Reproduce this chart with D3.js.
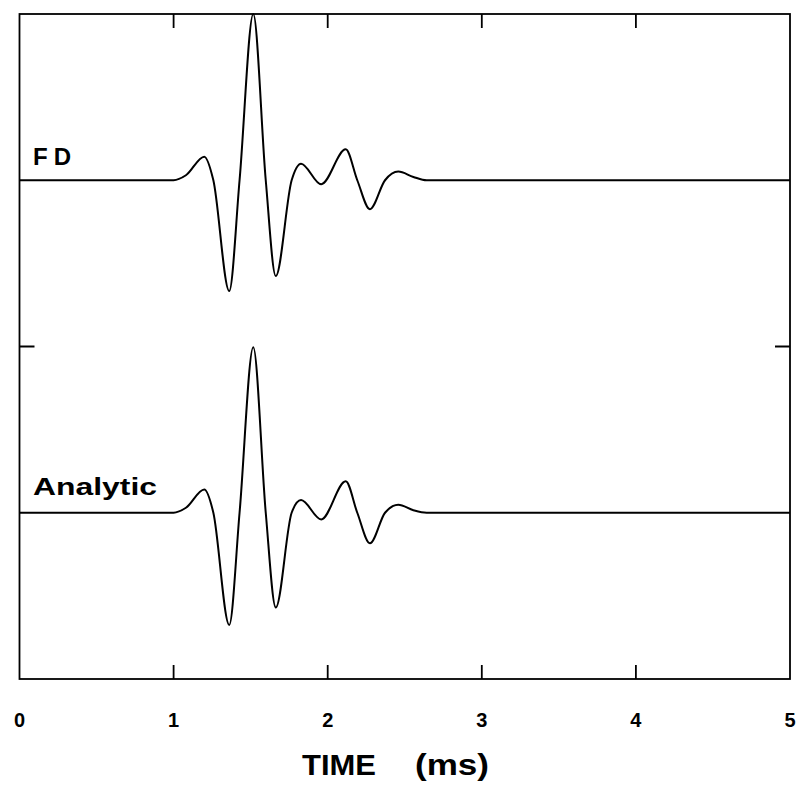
<!DOCTYPE html>
<html>
<head>
<meta charset="utf-8">
<script src="https://cdn.jsdelivr.net/npm/d3@7"></script>
<style>
  html, body { margin: 0; padding: 0; background: #fff; }
  svg { display: block; }
</style>
</head>
<body>
<svg id="chart" width="796" height="788"></svg>
<script>
// ---- data ----
const timeMs = [0, 1.0, 1.08, 1.199, 1.258, 1.361, 1.428, 1.517, 1.598, 1.663, 1.766, 1.827, 1.958, 2.117, 2.192, 2.274, 2.372, 2.458, 2.556, 2.642, 5.0];
const fdAmp =  [0, 0, 0.03, 0.142, 0, -0.666, 0, 1.0, 0, -0.576, 0, 0.100, -0.024, 0.186, 0, -0.174, 0, 0.052, 0.020, 0, 0];
const anAmp =  [0, 0, 0.03, 0.140, 0, -0.675, 0, 0.995, 0, -0.570, 0, 0.076, -0.040, 0.190, 0, -0.184, 0, 0.048, 0.015, 0, 0];
const traceNames = ["FD", "Analytic"];
const traceOffsets = [3, 1];
const xTickValues = [0, 1, 2, 3, 4, 5];
const xTickLabels = ["0", "1", "2", "3", "4", "5"];
const yTickValues = [2];
const xTitle = "TIME";
const xUnit = "(ms)";

// ---- layout ----
const svg = d3.select("#chart");
const pL = 19.5, pR = 790, pT = 14, pB = 679;
const x = d3.scaleLinear().domain([0, 5]).range([pL, pR]);
const y = d3.scaleLinear().domain([0, 4]).range([pB, pT]);
const font = "'Liberation Sans', Arial, Helvetica, sans-serif";

// frame
svg.append("rect")
  .attr("x", pL).attr("y", pT)
  .attr("width", pR - pL).attr("height", pB - pT)
  .attr("fill", "none").attr("stroke", "#000").attr("stroke-width", 1.8);

// inward ticks: top & bottom
const innerX = xTickValues.filter(v => v > 0 && v < 5);
svg.append("g").selectAll("line").data(innerX).join("line")
  .attr("x1", d => x(d)).attr("x2", d => x(d))
  .attr("y1", pT).attr("y2", pT + 14)
  .attr("stroke", "#000").attr("stroke-width", 1.8);
svg.append("g").selectAll("line").data(innerX).join("line")
  .attr("x1", d => x(d)).attr("x2", d => x(d))
  .attr("y1", pB).attr("y2", pB - 14)
  .attr("stroke", "#000").attr("stroke-width", 1.8);
// left & right ticks
svg.append("g").selectAll("line").data(yTickValues).join("line")
  .attr("x1", pL).attr("x2", pL + 15)
  .attr("y1", d => y(d)).attr("y2", d => y(d))
  .attr("stroke", "#000").attr("stroke-width", 2);
svg.append("g").selectAll("line").data(yTickValues).join("line")
  .attr("x1", pR).attr("x2", pR - 15)
  .attr("y1", d => y(d)).attr("y2", d => y(d))
  .attr("stroke", "#000").attr("stroke-width", 2);

// tick labels
svg.append("g").selectAll("text").data(xTickValues).join("text")
  .attr("x", d => x(d)).attr("y", 727)
  .attr("text-anchor", "middle")
  .attr("font-family", font).attr("font-weight", "bold").attr("font-size", 20)
  .text((d, i) => xTickLabels[i]);

// axis title
const title = svg.append("text")
  .attr("y", 775)
  .attr("font-family", font).attr("font-weight", "bold").attr("font-size", 30);
title.append("tspan").attr("x", 302).attr("textLength", 74).attr("lengthAdjust", "spacingAndGlyphs").text(xTitle);
title.append("tspan").attr("x", 415).attr("textLength", 74).attr("lengthAdjust", "spacingAndGlyphs").text(xUnit);

// traces
const line = d3.line()
  .x(d => x(d[0]))
  .y(d => y(d[1]))
  .curve(d3.curveMonotoneX);
const series = [fdAmp, anAmp];
series.forEach((amp, k) => {
  const pts = timeMs.map((t, i) => [t, traceOffsets[k] + amp[i]]);
  svg.append("path")
    .datum(pts)
    .attr("d", line)
    .attr("fill", "none")
    .attr("stroke", "#000")
    .attr("stroke-width", 2)
    .attr("stroke-linejoin", "round");
});

// trace labels
svg.append("text")
  .attr("x", 33).attr("y", 165)
  .attr("font-family", font).attr("font-weight", "bold").attr("font-size", 24)
  .attr("letter-spacing", 6)
  .text(traceNames[0]);
svg.append("text")
  .attr("x", 33).attr("y", 495)
  .attr("font-family", font).attr("font-weight", "bold").attr("font-size", 23)
  .attr("textLength", 124)
  .attr("lengthAdjust", "spacingAndGlyphs")
  .text(traceNames[1]);
</script>
</body>
</html>
